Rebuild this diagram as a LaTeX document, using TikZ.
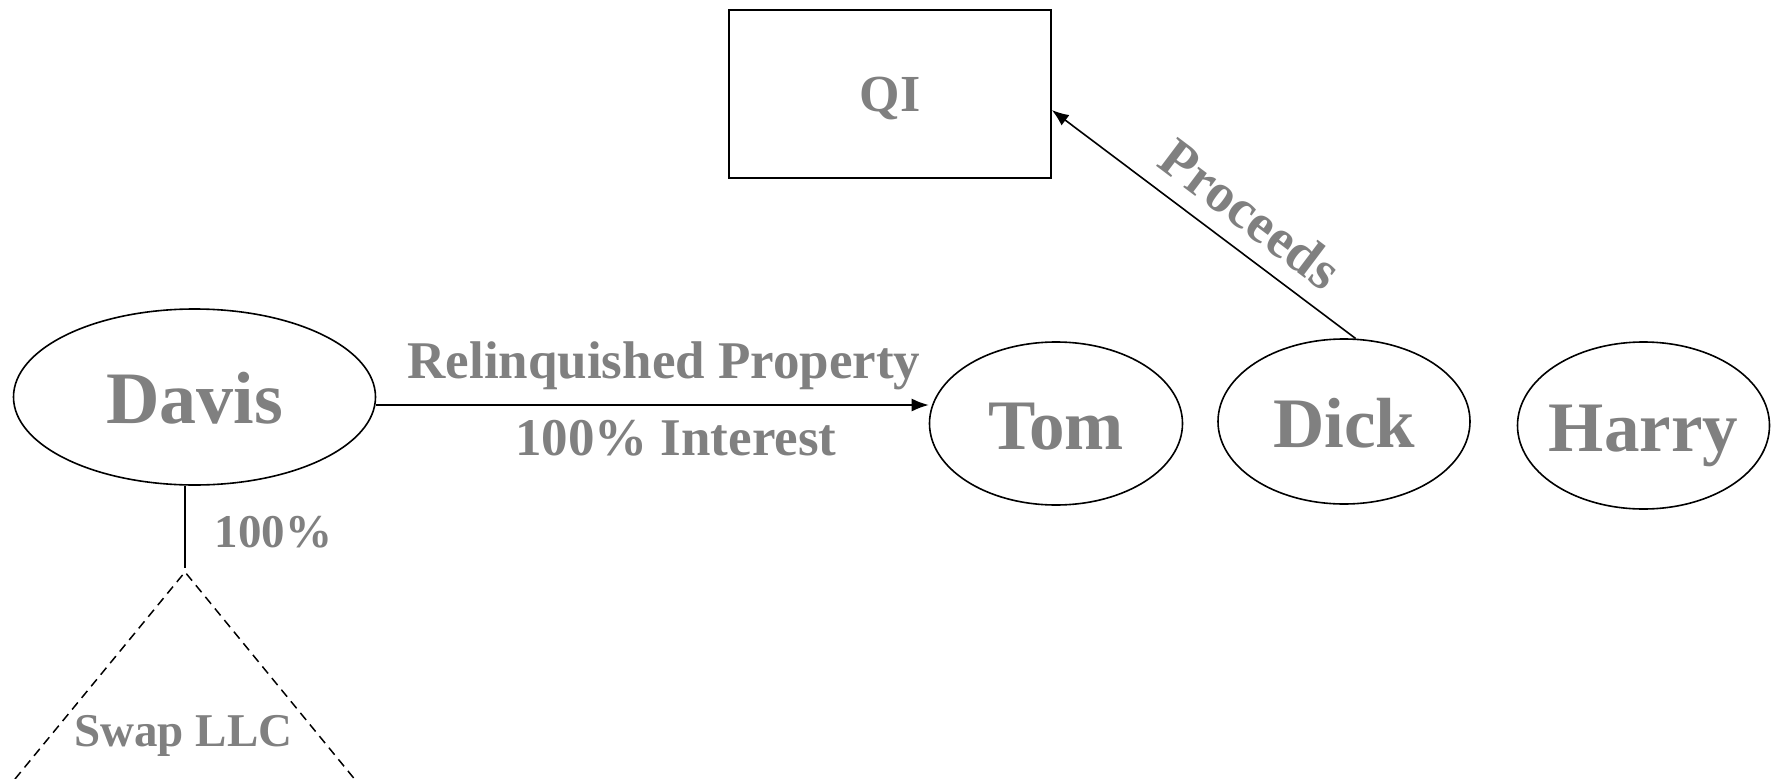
\documentclass[tikz,border=0pt]{standalone}
\usepackage{fontspec}
\setmainfont{Liberation Serif}
\usetikzlibrary{shapes.geometric,arrows.meta}
\definecolor{txtgray}{RGB}{128,128,128}
\begin{document}
\begin{tikzpicture}[x=1pt,y=-1pt,
  ent/.style={ellipse,draw,line width=1.6pt,inner ysep=0pt,inner xsep=-25pt,text=txtgray,
    text height=52pt,text depth=0pt,font={\fontsize{71}{76}\selectfont\bfseries}},
  box/.style={rectangle,draw,line width=1.6pt,inner sep=0pt,text=txtgray,
    text height=35pt,text depth=0pt,font={\fontsize{52}{58}\selectfont\bfseries}},
  lbl/.style={text=txtgray,inner sep=0pt,anchor=base,font={\fontsize{53}{58}\selectfont\bfseries}},
  slbl/.style={text=txtgray,inner sep=0pt,anchor=base,font={\fontsize{47}{52}\selectfont\bfseries}},
  arr/.style={line width=1.6pt,-{Latex[length=17pt,width=13pt]}},
  link/.style={line width=1.6pt},
  llc/.style={line width=1.5pt,dash pattern=on 9pt off 6pt}]
\useasboundingbox (0,0) rectangle (1773,779);
% entities
\node[ent,minimum width=362pt,minimum height=176pt,font={\fontsize{74}{80}\selectfont\bfseries}] (davis) at (194.5,397) {Davis};
\node[ent,minimum width=253pt,minimum height=163pt] (tom) at (1056,423.5) {Tom};
\node[ent,minimum width=252pt,minimum height=165pt] (dick) at (1344,421.5) {Dick};
\node[ent,minimum width=252pt,minimum height=167pt] (harry) at (1643.5,425.5) {Harry};
\node[box,minimum width=322pt,minimum height=168pt] (qi) at (890,94) {QI};
% Davis -> Tom
\coordinate (rp) at ([yshift=-8pt]davis.east);
\draw[arr] (rp) -- (rp -| tom.west);
\node[lbl] (relq) at (664,378) {Relinquished Property};
\node[lbl] (intr) at (675.7,455) {100\% Interest};
% Dick -> QI
\draw[arr] (dick.82) -- ([yshift=-16pt]qi.east);
\node[lbl,anchor=center,rotate=-37,font={\fontsize{55}{60}\selectfont\bfseries}] (proc) at (1251,214) {Proceeds};
% Davis -- Swap LLC
\coordinate (apex) at (185,572);
\draw[link] (davis.south -| apex) -- ([yshift=4pt]apex);
\draw[llc] (15,779) -- (apex) -- (354.5,779);
\node[slbl] (pct) at (273.6,547) {100\%};
\node[slbl] (swap) at (183.3,746.7) {Swap LLC};
\end{tikzpicture}
\end{document}
